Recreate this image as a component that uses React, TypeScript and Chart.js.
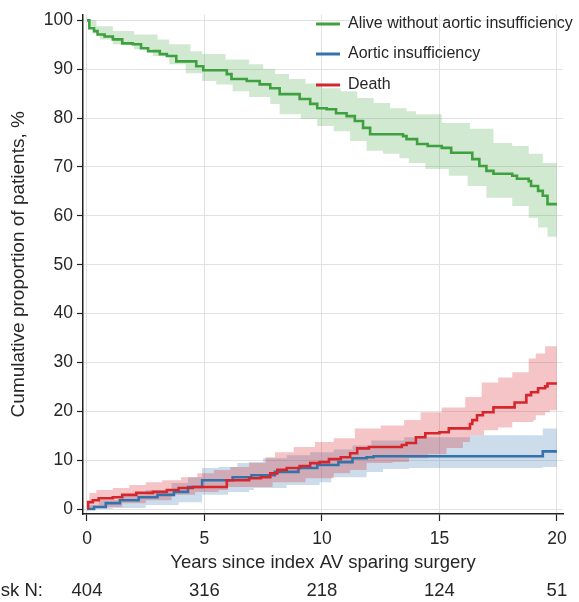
import React, { useEffect, useRef } from "react";
import { Chart, registerables } from "chart.js";

Chart.register(...registerables);

// ---------- tick labels / text ----------
const xTickValues = [0, 5, 10, 15, 20];
const yTickValues = [0, 10, 20, 30, 40, 50, 60, 70, 80, 90, 100];
const riskTimes = [0, 5, 10, 15, 20];
const riskN = [404, 316, 218, 124, 51];
const legendLabels = ["Alive without aortic insufficiency", "Aortic insufficiency", "Death"];
const xTitle = "Years since index AV sparing surgery";
const yTitle = "Cumulative proportion of patients, %";

// ---------- Alive without aortic insufficiency ----------
const aliveT = [0, 0.1, 0.3, 0.45, 0.75, 1.1, 1.5, 1.95, 2.3, 2.6, 3.1, 3.4, 3.8, 4.65, 4.95, 5.95, 6.15, 6.8, 7.35, 7.8, 8.2, 9.05, 9.5, 9.8, 10.2, 10.6, 11.05, 11.4, 11.75, 12.05, 13.45, 13.6, 14.05, 14.5, 15.1, 15.5, 16.4, 16.7, 17.0, 17.3, 18.1, 18.3, 18.8, 18.9, 19.2, 19.4, 19.6, 20.0];
const aliveV = [100, 98.4, 97.8, 97.1, 96.7, 96.1, 95.3, 95.1, 94.3, 93.7, 93.1, 92.7, 91.6, 90.6, 89.8, 89.0, 88.0, 87.6, 86.9, 86.1, 84.9, 83.9, 82.9, 82.0, 81.8, 81.0, 80.4, 79.4, 78.0, 76.7, 76.3, 75.7, 74.7, 74.3, 73.9, 72.9, 71.6, 70.2, 69.2, 68.6, 68.2, 67.6, 67.1, 66.1, 65.1, 64.1, 62.4, 62.4];
const aliveUpT = [0, 0.4, 1.1, 2.0, 3.0, 3.5, 4.4, 4.9, 5.9, 6.9, 7.5, 8.0, 8.6, 9.3, 10.0, 10.8, 11.5, 12.2, 12.9, 13.6, 14.0, 15.1, 16.3, 17.3, 18.1, 18.8, 19.4, 20.0];
const aliveUpV = [100, 98.8, 97.8, 97.1, 96.1, 95.1, 93.7, 93.1, 92.0, 91.0, 90.0, 89.0, 88.0, 87.1, 86.1, 85.5, 84.1, 83.1, 82.0, 81.4, 80.8, 79.0, 77.8, 74.9, 74.3, 72.7, 70.8, 70.2];
const aliveLoT = [0, 0.05, 0.25, 0.55, 1.1, 2.0, 2.8, 3.5, 4.2, 4.9, 5.5, 6.2, 6.9, 7.8, 8.2, 9.1, 9.8, 10.5, 11.2, 11.9, 12.6, 13.3, 13.7, 14.4, 15.4, 16.2, 17.0, 18.1, 18.8, 19.2, 19.6, 20.0];
const aliveLoV = [100, 98.8, 97.3, 96.1, 95.1, 94.1, 92.7, 91.0, 89.2, 87.6, 86.9, 85.5, 84.3, 82.9, 80.8, 79.8, 78.4, 77.3, 75.3, 73.3, 72.7, 71.8, 70.8, 69.6, 68.2, 66.1, 63.7, 62.0, 59.6, 57.6, 55.7, 55.7];

// ---------- Aortic insufficiency ----------
const aiT = [0, 0.3, 0.8, 1.4, 2.2, 3.0, 3.7, 4.3, 4.9, 6.2, 7.0, 8.0, 9.0, 9.8, 10.7, 11.3, 11.9, 12.2, 19.4, 20.0];
const aiV = [0, 0.4, 1.2, 1.8, 2.4, 2.9, 3.5, 4.5, 5.9, 6.5, 6.9, 7.6, 8.4, 9.0, 9.6, 10.4, 10.6, 10.8, 11.8, 11.8];
const aiUpT = [0, 0.5, 1.5, 2.5, 3.6, 4.3, 4.9, 5.6, 6.4, 6.9, 7.5, 8.5, 9.5, 10.5, 11.3, 12.1, 13.5, 16.3, 19.4, 20.0];
const aiUpV = [0.8, 1.8, 2.9, 3.9, 5.3, 6.5, 8.4, 8.6, 9.4, 9.6, 10.4, 11.0, 11.6, 12.2, 13.0, 14.0, 14.7, 15.1, 16.5, 16.5];
const aiLoT = [0, 1.1, 2.5, 3.9, 4.9, 6.0, 6.9, 7.1, 8.5, 9.9, 10.4, 11.9, 12.6, 13.7, 19.4, 20.0];
const aiLoV = [0, 0.2, 0.8, 1.4, 2.9, 3.5, 3.9, 4.3, 4.9, 5.5, 6.5, 7.6, 8.2, 8.4, 8.6, 8.6];

// ---------- Death ----------
const deathT = [0, 0.05, 0.25, 0.5, 1.1, 1.5, 2.1, 2.8, 3.4, 3.9, 4.5, 5.95, 6.9, 7.4, 7.8, 8.1, 8.5, 9.05, 9.5, 9.9, 10.3, 10.8, 11.2, 11.5, 12.0, 13.4, 13.6, 14.0, 14.4, 15.0, 15.4, 16.3, 16.4, 16.6, 16.85, 17.3, 18.2, 18.7, 18.9, 19.2, 19.5, 19.6, 20.0];
const deathV = [0.2, 1.4, 1.8, 2.2, 2.4, 2.9, 3.3, 3.5, 3.9, 4.3, 4.5, 5.9, 6.3, 6.5, 7.3, 8.0, 8.4, 8.8, 9.4, 9.6, 10.2, 10.6, 11.4, 12.4, 12.7, 13.1, 13.5, 14.7, 15.5, 15.7, 16.5, 17.4, 18.2, 19.2, 19.8, 20.8, 21.8, 23.3, 23.9, 24.7, 25.1, 25.7, 25.7];
const deathUpT = [0, 0.1, 0.4, 1.1, 1.8, 2.5, 3.2, 4.0, 4.7, 5.4, 6.1, 6.9, 7.6, 8.0, 8.8, 9.7, 10.5, 11.4, 12.5, 13.5, 14.2, 15.1, 16.1, 16.8, 17.5, 18.1, 18.8, 19.1, 19.5, 20.0];
const deathUpV = [1.4, 3.3, 3.9, 4.3, 4.9, 5.5, 5.9, 6.5, 7.3, 8.0, 8.6, 9.4, 10.6, 11.6, 12.7, 13.7, 14.5, 16.5, 17.1, 18.2, 19.8, 20.8, 22.9, 25.9, 26.9, 28.0, 30.8, 31.8, 33.3, 33.3];
const deathLoT = [0, 0.5, 1.5, 2.5, 3.6, 4.6, 5.6, 6.0, 7.9, 9.3, 10.5, 11.2, 11.9, 13.0, 13.7, 14.5, 15.3, 16.0, 16.3, 16.9, 17.5, 18.1, 19.0, 19.1, 19.5, 19.7, 20.0];
const deathLoV = [0.2, 0.4, 1.2, 1.8, 2.9, 3.5, 3.9, 4.5, 5.5, 6.3, 7.3, 8.0, 9.4, 9.6, 10.4, 11.2, 12.5, 13.7, 15.1, 16.1, 16.7, 17.8, 18.2, 19.2, 19.8, 20.2, 20.2];

// ---------- styles ----------
const GREEN = "rgb(62,160,62)";
const BLUE = "rgb(52,114,172)";
const RED = "rgb(214,38,44)";
const GREEN_BAND = "rgba(62,160,62,0.24)";
const BLUE_BAND = "rgba(52,114,172,0.25)";
const RED_BAND = "rgba(214,38,44,0.27)";
const TEXT = "#262626";
const GRID = "#e2e2e2";
const AXIS = "#222222";
const FONT = '"Liberation Sans", Arial, Helvetica, sans-serif';

const zip = (t: number[], v: number[]) => t.map((x, i) => ({ x, y: v[i] }));

// value of a right-continuous step function (last read value at or before t)
const stepAt = (ts: number[], vs: number[], t: number) => {
  let v = vs[0];
  for (let i = 0; i < ts.length; i++) if (ts[i] <= t) v = vs[i];
  return v;
};

// express both band edges on the same time grid so the filled area follows both steps
const bandPair = (upT: number[], upV: number[], loT: number[], loV: number[]) => {
  const grid = Array.from(new Set([...upT, ...loT])).sort((a, b) => a - b);
  return {
    upper: grid.map((t) => ({ x: t, y: stepAt(upT, upV, t) })),
    lower: grid.map((t) => ({ x: t, y: stepAt(loT, loV, t) })),
  };
};

const lineDs = (label: string, t: number[], v: number[], color: string) => ({
  label,
  data: zip(t, v),
  borderColor: color,
  backgroundColor: color,
  borderWidth: 2.6,
  pointRadius: 0,
  stepped: true as const,
  fill: false,
});

const bandDs = (label: string, data: any[], color: string, fill: any) => ({
  label,
  data,
  borderColor: "rgba(0,0,0,0)",
  backgroundColor: color,
  borderWidth: 0,
  pointRadius: 0,
  stepped: true as const,
  fill,
});

const overlayPlugin = {
  id: "overlay",
  afterDraw(chart: any) {
    const ctx = chart.ctx;
    const xs = chart.scales.x;
    ctx.save();
    ctx.fillStyle = TEXT;
    ctx.textBaseline = "middle";
    ctx.font = `18.5px ${FONT}`;
    ctx.textAlign = "right";
    ctx.fillText("Risk N:", 43, 591);
    ctx.textAlign = "center";
    riskTimes.forEach((t, i) => {
      ctx.fillText(String(riskN[i]), xs.getPixelForValue(t), 591);
    });
    // legend
    const colors = [GREEN, BLUE, RED];
    const ys = [24, 54, 85];
    ctx.font = `16px ${FONT}`;
    ctx.textAlign = "left";
    legendLabels.forEach((lab, i) => {
      ctx.strokeStyle = colors[i];
      ctx.lineWidth = 3;
      ctx.beginPath();
      ctx.moveTo(316, ys[i]);
      ctx.lineTo(340, ys[i]);
      ctx.stroke();
      ctx.fillStyle = TEXT;
      ctx.fillText(lab, 348, ys[i]);
    });
    ctx.restore();
  },
};

export default function App() {
  const ref = useRef<HTMLCanvasElement>(null);

  useEffect(() => {
    document.body.style.margin = "0";
    const canvas = ref.current;
    if (!canvas) return;
    const deathBand = bandPair(deathUpT, deathUpV, deathLoT, deathLoV);
    const aiBand = bandPair(aiUpT, aiUpV, aiLoT, aiLoV);
    const aliveBand = bandPair(aliveUpT, aliveUpV, aliveLoT, aliveLoV);
    const chart = new Chart(canvas, {
      type: "line",
      data: {
        datasets: [
          lineDs("Death", deathT, deathV, RED),
          lineDs("Aortic insufficiency", aiT, aiV, BLUE),
          lineDs("Alive without aortic insufficiency", aliveT, aliveV, GREEN),
          bandDs("death upper", deathBand.upper, RED_BAND, "+1"),
          bandDs("death lower", deathBand.lower, RED_BAND, false),
          bandDs("ai upper", aiBand.upper, BLUE_BAND, "+1"),
          bandDs("ai lower", aiBand.lower, BLUE_BAND, false),
          bandDs("alive upper", aliveBand.upper, GREEN_BAND, "+1"),
          bandDs("alive lower", aliveBand.lower, GREEN_BAND, false),
        ] as any,
      },
      options: {
        responsive: false,
        animation: false,
        devicePixelRatio: 1,
        layout: { padding: { left: 0, top: 13, right: 16, bottom: 28 } },
        plugins: {
          legend: { display: false },
          tooltip: { enabled: false },
        },
        scales: {
          x: {
            type: "linear",
            min: -0.17,
            max: 20.26,
            afterBuildTicks: (s: any) => {
              s.ticks = xTickValues.map((v) => ({ value: v }));
            },
            afterFit: (s: any) => {
              s.height = 60;
            },
            ticks: {
              color: TEXT,
              font: { size: 17.5, family: FONT },
              padding: 8,
              maxRotation: 0,
              autoSkip: false,
            },
            grid: { color: GRID, lineWidth: 1, tickColor: AXIS, tickLength: 7, tickWidth: 1.2 },
            border: { color: AXIS, width: 1.5 },
            title: {
              display: true,
              text: xTitle,
              color: TEXT,
              font: { size: 18.5, family: FONT },
              padding: { top: 0, bottom: 0 },
            },
          },
          y: {
            type: "linear",
            min: -1.02,
            max: 101.2,
            afterBuildTicks: (s: any) => {
              s.ticks = yTickValues.map((v) => ({ value: v }));
            },
            afterFit: (s: any) => {
              s.width = 83;
            },
            ticks: {
              color: TEXT,
              font: { size: 17.5, family: FONT },
              padding: 4,
              autoSkip: false,
            },
            grid: { color: GRID, lineWidth: 1, tickColor: AXIS, tickLength: 6, tickWidth: 1.2 },
            border: { color: AXIS, width: 1.5 },
            title: {
              display: true,
              text: yTitle,
              color: TEXT,
              font: { size: 19, family: FONT },
              padding: { top: 7, bottom: 0 },
            },
          },
        },
      },
      plugins: [overlayPlugin],
    });
    return () => chart.destroy();
  }, []);

  return (
    <div style={{ width: 579, height: 602, position: "relative" }}>
      <canvas ref={ref} width={579} height={602} />
    </div>
  );
}
